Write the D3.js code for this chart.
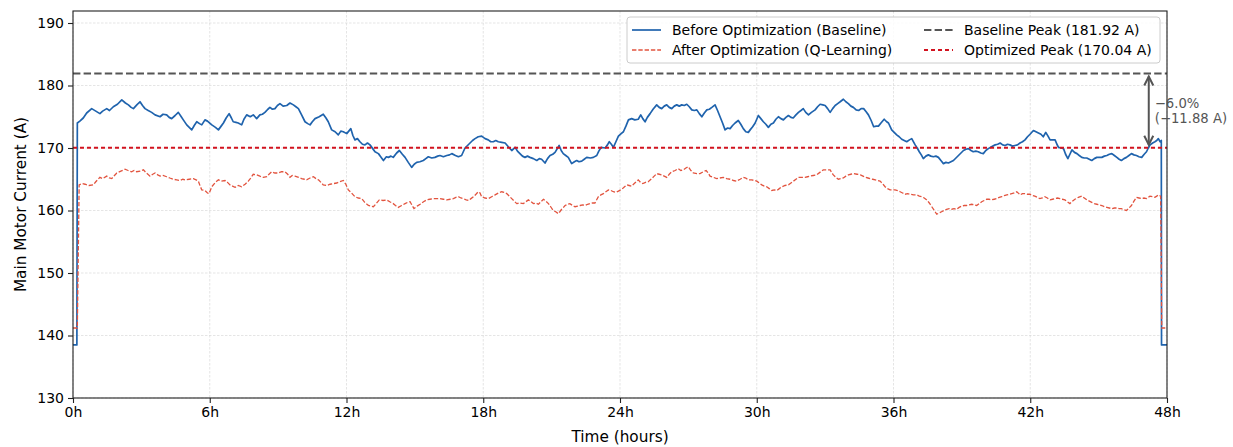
<!DOCTYPE html>
<html>
<head>
<meta charset="utf-8">
<script src="https://cdn.jsdelivr.net/npm/d3@7/dist/d3.min.js"></script>
<style>
  html, body { margin: 0; padding: 0; background: #fff; }
  svg { display: block; font-family: "DejaVu Sans", sans-serif; }
</style>
</head>
<body>
<svg id="chart" width="1233" height="447"></svg>
<script>
// Main motor current over 48 hours, before and after Q-learning optimization
const baselineHours = [0,0.17,0.19,0.3,0.45,0.6,0.82,1.0,1.18,1.3,1.48,1.6,1.77,1.95,2.14,2.3,2.43,2.55,2.65,2.8,2.94,3.05,3.16,3.3,3.45,3.6,3.82,3.95,4.11,4.22,4.33,4.48,4.62,4.75,4.84,4.99,5.1,5.21,5.32,5.43,5.55,5.65,5.79,5.9,6.09,6.25,6.38,6.5,6.6,6.72,6.85,6.95,7.03,7.15,7.25,7.4,7.5,7.62,7.78,7.91,8.06,8.2,8.31,8.42,8.55,8.64,8.75,8.86,8.97,9.08,9.22,9.38,9.52,9.67,9.78,9.89,10.03,10.18,10.3,10.4,10.5,10.62,10.8,10.98,11.1,11.2,11.35,11.5,11.64,11.75,11.86,12.01,12.19,12.28,12.37,12.48,12.59,12.7,12.81,12.92,13.03,13.15,13.25,13.4,13.5,13.62,13.75,13.84,13.95,14.05,14.2,14.32,14.45,14.57,14.71,14.86,14.97,15.08,15.22,15.37,15.48,15.59,15.74,15.88,16.0,16.1,16.25,16.4,16.52,16.62,16.78,16.91,17.05,17.2,17.31,17.42,17.53,17.64,17.78,17.93,18.08,18.22,18.33,18.44,18.55,18.66,18.81,18.96,19.1,19.25,19.4,19.5,19.61,19.72,19.83,19.94,20.05,20.2,20.35,20.46,20.56,20.71,20.82,20.93,21.05,21.15,21.33,21.42,21.51,21.62,21.73,21.88,22.0,22.1,22.2,22.32,22.43,22.54,22.7,22.83,22.98,23.07,23.17,23.35,23.45,23.53,23.62,23.71,23.82,23.93,24.05,24.15,24.26,24.37,24.51,24.65,24.8,24.91,25.0,25.1,25.2,25.32,25.45,25.61,25.72,25.83,25.94,26.05,26.16,26.27,26.38,26.49,26.6,26.71,26.82,26.93,27.04,27.15,27.26,27.37,27.48,27.59,27.7,27.81,27.92,28.03,28.17,28.28,28.39,28.5,28.61,28.72,28.83,28.94,29.05,29.19,29.3,29.41,29.52,29.63,29.71,29.82,29.93,30.07,30.18,30.29,30.4,30.51,30.62,30.73,30.84,30.95,31.06,31.17,31.28,31.39,31.5,31.6,31.72,31.83,31.94,32.04,32.15,32.27,32.4,32.56,32.67,32.78,32.9,33.0,33.11,33.22,33.33,33.44,33.55,33.66,33.8,33.91,34.02,34.13,34.24,34.36,34.47,34.58,34.69,34.8,34.9,35.02,35.13,35.24,35.34,35.45,35.59,35.7,35.78,35.92,36.03,36.14,36.25,36.36,36.47,36.58,36.7,36.8,36.95,37.04,37.13,37.22,37.31,37.42,37.53,37.64,37.75,37.86,37.97,38.08,38.19,38.3,38.41,38.52,38.63,38.74,38.85,38.96,39.07,39.18,39.29,39.4,39.5,39.61,39.72,39.83,39.94,40.05,40.16,40.3,40.46,40.57,40.68,40.79,40.9,41.0,41.11,41.22,41.33,41.44,41.55,41.66,41.77,41.88,41.99,42.14,42.25,42.36,42.47,42.57,42.68,42.78,42.87,42.98,43.09,43.17,43.24,43.35,43.46,43.55,43.65,43.74,43.83,43.94,44.05,44.15,44.26,44.37,44.48,44.59,44.7,44.81,44.92,45.03,45.14,45.25,45.36,45.47,45.58,45.69,45.8,45.9,46.0,46.11,46.22,46.33,46.44,46.55,46.66,46.77,46.89,47.0,47.1,47.18,47.26,47.37,47.47,47.55,47.62,47.7,47.75,47.76,48.0];
const baselineAmps = [138.5,138.5,174.0,174.3,174.8,175.6,176.3,175.9,175.5,175.9,176.3,176.0,176.6,177.0,177.7,177.2,176.9,176.5,176.3,176.9,177.4,176.8,176.3,176.0,175.7,175.3,175.0,175.4,175.3,174.9,174.7,175.2,175.7,175.0,174.5,173.7,173.3,172.9,173.6,174.2,173.9,173.7,174.5,174.3,173.7,173.3,172.9,173.5,174.0,174.8,175.5,174.8,174.2,174.1,174.0,173.7,174.6,175.3,175.0,175.3,174.7,175.3,175.4,175.7,176.2,176.5,176.2,176.3,176.8,177.1,176.7,176.8,177.2,176.9,176.6,176.3,175.3,174.2,173.9,173.7,174.2,174.7,175.0,175.4,174.8,174.2,172.9,172.6,172.1,172.7,172.6,172.3,173.1,172.0,171.3,171.5,171.0,170.6,170.5,170.8,170.5,169.9,169.4,169.1,168.6,168.0,168.6,168.5,168.7,168.5,169.2,169.6,169.0,168.5,167.7,166.9,167.4,167.7,167.8,168.0,168.3,168.6,168.4,168.5,168.7,168.8,168.6,168.8,168.9,169.1,168.8,168.6,168.8,170.0,170.4,170.8,171.2,171.5,171.8,171.9,171.5,171.3,171.0,171.0,171.2,171.0,170.9,170.8,170.2,169.6,170.1,169.5,169.1,168.7,168.5,168.7,168.5,168.3,168.0,168.3,168.2,167.6,168.3,168.8,169.0,169.3,170.4,169.6,169.1,168.8,168.5,167.5,167.8,168.0,167.8,167.9,168.2,168.5,168.4,168.5,168.8,169.5,170.1,170.0,170.5,171.0,170.6,170.1,171.0,171.9,172.3,172.6,173.5,174.5,174.7,174.5,174.6,175.3,174.7,174.2,174.9,175.5,176.2,176.9,176.5,176.3,176.7,176.9,176.5,176.3,176.7,176.9,176.7,176.9,176.8,177.0,176.6,176.1,176.0,176.1,175.5,175.0,175.6,176.1,176.2,176.5,176.9,176.0,175.0,174.0,172.9,173.2,173.1,173.6,174.0,174.4,173.8,173.1,172.6,172.5,172.9,173.4,174.0,175.2,174.7,174.2,173.8,173.3,173.8,174.0,174.6,175.0,174.7,174.5,174.9,175.2,174.9,174.8,175.3,175.7,176.0,176.3,175.7,175.3,175.7,176.1,176.6,177.0,176.9,176.8,176.3,175.7,176.3,176.8,177.1,177.4,177.8,177.4,177.1,176.7,176.5,176.1,176.0,176.3,176.3,175.8,175.3,174.4,173.4,173.5,173.5,174.0,174.6,174.2,174.0,172.9,172.5,172.1,171.8,171.4,171.2,171.0,171.3,171.5,170.5,170.0,169.4,168.9,168.3,168.7,168.9,168.7,168.6,168.7,168.5,168.0,167.5,167.7,167.6,167.8,168.0,168.4,168.8,169.2,169.6,169.8,169.9,169.6,169.4,169.5,169.4,169.2,169.1,169.6,169.9,170.2,170.5,170.6,170.8,170.5,170.4,170.6,170.5,170.3,170.4,170.5,170.8,171.0,171.3,171.8,172.2,172.8,172.6,172.4,172.2,171.8,172.5,171.9,171.3,171.3,171.3,170.6,170.1,170.0,169.9,169.0,168.3,169.0,169.7,169.3,169.1,168.8,168.5,168.4,168.4,168.2,168.0,168.3,168.5,168.5,168.5,168.7,168.8,169.0,169.1,168.8,168.5,168.2,168.0,168.3,168.5,168.8,169.1,168.9,168.8,168.6,168.5,169.0,169.4,170.0,170.5,170.8,171.0,171.2,171.5,171.0,171.2,138.5,138.5];

const optimizedHours = [0,0.19,0.27,0.4,0.53,0.7,0.89,1.0,1.18,1.3,1.48,1.6,1.7,1.82,1.92,2.1,2.28,2.42,2.57,2.68,2.79,2.95,3.09,3.22,3.38,3.5,3.6,3.72,3.82,3.95,4.11,4.25,4.4,4.55,4.7,4.82,4.92,5.1,5.28,5.4,5.5,5.58,5.65,5.79,5.9,5.97,6.09,6.25,6.38,6.5,6.67,6.78,6.89,7.0,7.11,7.25,7.4,7.55,7.69,7.8,7.91,8.06,8.2,8.35,8.5,8.6,8.72,8.86,9.01,9.15,9.3,9.42,9.52,9.62,9.74,9.9,10.03,10.15,10.25,10.4,10.55,10.66,10.77,10.88,10.98,11.13,11.28,11.42,11.57,11.7,11.86,11.97,12.08,12.22,12.37,12.52,12.67,12.8,12.96,13.08,13.18,13.3,13.44,13.6,13.76,13.9,14.05,14.15,14.27,14.42,14.57,14.68,14.79,14.88,14.96,15.1,15.23,15.38,15.52,15.66,15.81,15.96,16.1,16.25,16.4,16.55,16.69,16.8,16.91,17.02,17.13,17.25,17.35,17.46,17.57,17.68,17.78,17.86,17.93,18.08,18.22,18.37,18.52,18.66,18.81,18.92,19.03,19.14,19.25,19.36,19.47,19.6,19.76,19.87,19.98,20.1,20.2,20.31,20.42,20.53,20.64,20.75,20.86,20.96,21.07,21.18,21.29,21.36,21.44,21.52,21.59,21.7,21.8,21.92,22.03,22.14,22.25,22.36,22.47,22.58,22.69,22.8,22.9,23.05,23.16,23.27,23.38,23.49,23.6,23.71,23.82,23.93,24.08,24.2,24.3,24.4,24.5,24.65,24.8,24.9,25.0,25.12,25.24,25.39,25.5,25.61,25.72,25.83,25.94,26.05,26.16,26.27,26.42,26.56,26.67,26.78,26.89,27.0,27.11,27.22,27.37,27.51,27.65,27.78,27.87,27.95,28.1,28.24,28.38,28.53,28.68,28.83,28.98,29.12,29.27,29.41,29.52,29.63,29.78,29.9,30.0,30.11,30.22,30.33,30.44,30.55,30.66,30.77,30.88,30.99,31.1,31.24,31.39,31.5,31.61,31.72,31.83,31.97,32.12,32.23,32.34,32.48,32.63,32.77,32.92,33.07,33.22,33.3,33.36,33.47,33.58,33.69,33.8,33.91,34.02,34.13,34.24,34.4,34.55,34.66,34.77,34.88,34.98,35.09,35.2,35.3,35.41,35.52,35.63,35.74,35.85,35.96,36.07,36.18,36.29,36.4,36.51,36.62,36.73,36.88,37.02,37.13,37.24,37.35,37.46,37.57,37.68,37.79,37.9,38.0,38.11,38.22,38.33,38.44,38.55,38.66,38.77,38.88,38.99,39.1,39.2,39.32,39.43,39.54,39.65,39.76,39.87,39.98,40.09,40.2,40.3,40.42,40.53,40.64,40.75,40.86,40.97,41.08,41.19,41.3,41.41,41.5,41.55,41.66,41.77,41.88,41.99,42.1,42.2,42.31,42.42,42.53,42.64,42.75,42.87,42.98,43.09,43.2,43.3,43.41,43.52,43.63,43.74,43.85,43.96,44.11,44.26,44.37,44.48,44.59,44.7,44.81,44.92,45.03,45.14,45.25,45.36,45.47,45.58,45.69,45.8,45.9,46.0,46.11,46.22,46.33,46.44,46.55,46.66,46.77,46.88,46.99,47.1,47.18,47.25,47.36,47.47,47.55,47.62,47.72,47.77,48.0];
const optimizedAmps = [141.2,141.2,164.1,164.3,164.2,164.0,164.1,164.6,165.3,165.1,165.5,165.2,165.1,165.6,166.0,166.3,166.6,166.4,166.2,166.4,166.2,166.3,166.5,166.0,165.5,165.8,166.0,165.7,165.5,165.6,165.4,165.2,165.0,164.9,164.8,165.0,164.9,165.0,165.1,164.9,164.7,163.9,163.3,163.2,162.8,162.7,163.8,164.5,164.9,164.7,164.8,164.5,164.1,163.9,163.7,164.0,163.8,164.2,164.7,165.2,165.8,165.7,165.5,165.3,165.4,165.8,166.2,166.0,166.0,166.2,166.2,165.8,165.3,165.6,165.5,165.3,165.1,165.0,164.9,165.2,165.4,165.1,164.9,164.5,164.1,164.0,164.2,164.3,164.4,164.6,164.8,164.2,163.3,162.8,162.2,162.0,161.9,161.3,160.8,160.7,160.6,161.1,161.7,161.6,161.7,161.4,161.1,160.8,160.5,160.8,161.1,161.3,161.4,160.8,160.3,160.7,161.0,161.4,161.7,161.8,161.9,161.9,161.9,161.8,161.7,161.8,161.9,162.1,162.2,162.0,161.9,161.7,161.6,161.9,162.2,162.6,163.0,162.8,162.2,162.0,161.9,162.2,162.5,162.8,163.0,162.9,162.7,162.3,161.9,161.5,161.1,161.2,161.1,161.4,161.7,161.4,161.1,161.2,161.0,161.4,161.8,161.5,161.1,160.6,160.0,159.8,159.5,159.8,160.2,160.5,160.8,161.0,161.1,160.8,160.6,160.7,160.8,160.9,160.8,161.0,161.1,161.2,161.2,162.2,162.5,162.7,163.0,163.3,163.2,163.0,162.9,163.1,163.4,163.8,164.1,164.0,163.9,164.4,164.9,164.5,164.3,164.5,164.6,165.1,165.5,165.9,165.8,165.7,165.5,165.3,165.8,166.2,166.4,166.7,166.4,166.5,166.8,167.0,166.4,166.0,165.9,165.9,166.2,166.4,166.0,165.5,165.3,165.1,165.2,165.3,165.1,165.0,164.8,164.7,165.0,165.3,165.2,164.9,164.9,164.8,164.7,164.4,164.1,163.9,163.8,163.5,163.2,163.3,163.2,163.5,163.8,164.0,164.1,164.4,164.7,165.0,165.3,165.3,165.3,165.4,165.5,165.6,165.7,166.1,166.5,166.5,166.5,166.0,165.7,165.3,165.0,165.1,165.2,165.5,165.7,165.8,165.9,165.8,165.7,165.5,165.3,165.2,165.1,165.0,164.9,164.8,164.7,164.3,163.8,163.5,163.3,163.3,163.3,163.2,163.0,162.8,162.6,162.7,162.6,162.5,162.5,162.3,162.2,162.0,161.7,161.2,160.6,160.0,159.4,159.6,159.8,160.0,160.2,160.3,160.2,160.3,160.2,160.5,160.7,160.8,160.8,160.9,161.0,160.9,160.8,161.1,161.4,161.6,161.8,161.8,161.7,161.8,161.9,162.1,162.2,162.4,162.5,162.6,162.7,162.8,163.0,162.7,162.5,162.7,162.7,162.6,162.6,162.4,162.3,162.1,161.9,162.0,162.2,162.0,161.7,161.8,161.9,162.0,161.9,161.8,161.7,161.4,161.1,161.5,161.8,162.1,162.3,162.0,161.7,161.5,161.3,161.1,161.0,160.9,160.8,160.6,160.5,160.4,160.3,160.4,160.4,160.3,160.3,160.1,160.0,160.4,160.8,161.5,162.1,162.0,161.9,162.0,161.9,162.1,162.3,162.2,162.1,162.3,162.5,162.3,141.2,141.2];

const baselinePeak = 181.92;
const optimizedPeak = 170.04;
const xTickHours = [0, 6, 12, 18, 24, 30, 36, 42, 48];
const yTickAmps = [130, 140, 150, 160, 170, 180, 190];
const legendLabels = ["Before Optimization (Baseline)", "After Optimization (Q-Learning)", "Baseline Peak (181.92 A)", "Optimized Peak (170.04 A)"];
const reductionLabels = ["\u22126.0%", "(\u221211.88 A)"];

const svg = d3.select("#chart");
const margin = { left: 73, right: 1167, top: 11, bottom: 398 };

const x = d3.scaleLinear().domain([0, 48]).range([margin.left, margin.right]);
const y = d3.scaleLinear().domain([130, baselinePeak + 10]).range([margin.bottom, margin.top]);

const colors = {
  baseline: "#1f63ad",
  optimized: "#e2543f",
  basePeak: "#555555",
  optPeak: "#d2131f",
  grid: "#d4d4d4",
  text: "#000"
};

// clip path for the plot area
svg.append("defs").append("clipPath").attr("id", "plot-clip")
  .append("rect")
  .attr("x", margin.left).attr("y", margin.top)
  .attr("width", margin.right - margin.left).attr("height", margin.bottom - margin.top);

// grid
const grid = svg.append("g").attr("class", "grid");
grid.selectAll("line.gx").data(xTickHours).join("line")
  .attr("class", "gx")
  .attr("x1", d => x(d)).attr("x2", d => x(d))
  .attr("y1", margin.top).attr("y2", margin.bottom)
  .attr("stroke", colors.grid).attr("stroke-width", 0.6).attr("stroke-dasharray", "2.5,1.5");
grid.selectAll("line.gy").data(yTickAmps).join("line")
  .attr("class", "gy")
  .attr("x1", margin.left).attr("x2", margin.right)
  .attr("y1", d => y(d)).attr("y2", d => y(d))
  .attr("stroke", colors.grid).attr("stroke-width", 0.6).attr("stroke-dasharray", "2.5,1.5");

const plot = svg.append("g").attr("clip-path", "url(#plot-clip)");

const line = d3.line().x(d => x(d[0])).y(d => y(d[1]));
const baselineData = baselineHours.map((h, i) => [h, baselineAmps[i]]);
const optimizedData = optimizedHours.map((h, i) => [h, optimizedAmps[i]]);

plot.append("path").datum(baselineData)
  .attr("d", line)
  .attr("fill", "none")
  .attr("stroke", colors.baseline)
  .attr("stroke-width", 1.7)
  .attr("stroke-linejoin", "round");

plot.append("path").datum(optimizedData)
  .attr("d", line)
  .attr("fill", "none")
  .attr("stroke", colors.optimized)
  .attr("stroke-width", 1.3)
  .attr("stroke-dasharray", "4.4,1.9");

// peak reference lines
plot.append("line")
  .attr("x1", margin.left).attr("x2", margin.right)
  .attr("y1", y(baselinePeak)).attr("y2", y(baselinePeak))
  .attr("stroke", colors.basePeak).attr("stroke-width", 2)
  .attr("stroke-dasharray", "7.4,3.2");
plot.append("line")
  .attr("x1", margin.left).attr("x2", margin.right)
  .attr("y1", y(optimizedPeak)).attr("y2", y(optimizedPeak))
  .attr("stroke", colors.optPeak).attr("stroke-width", 2)
  .attr("stroke-dasharray", "4,3");

// axes
const xAxis = d3.axisBottom(x).tickValues(xTickHours).tickFormat(d => d + "h").tickSize(5).tickPadding(4);
const yAxis = d3.axisLeft(y).tickValues(yTickAmps).tickSize(5).tickPadding(4);

const gx = svg.append("g").attr("transform", `translate(0,${margin.bottom})`).call(xAxis);
const gy = svg.append("g").attr("transform", `translate(${margin.left},0)`).call(yAxis);
[gx, gy].forEach(g => {
  g.select(".domain").remove();
  g.selectAll(".tick line").attr("stroke", "#222").attr("stroke-width", 1.1);
  g.selectAll(".tick text").attr("fill", "#000").attr("font-size", 14).attr("font-family", "DejaVu Sans");
});

// frame
svg.append("rect")
  .attr("x", margin.left).attr("y", margin.top)
  .attr("width", margin.right - margin.left).attr("height", margin.bottom - margin.top)
  .attr("fill", "none").attr("stroke", "#222").attr("stroke-width", 1.1);

// axis titles
svg.append("text")
  .attr("x", (margin.left + margin.right) / 2).attr("y", 442)
  .attr("text-anchor", "middle").attr("font-size", 15.3).attr("fill", "#000")
  .text("Time (hours)");
svg.append("text")
  .attr("transform", `translate(26,${(margin.top + margin.bottom) / 2}) rotate(-90)`)
  .attr("text-anchor", "middle").attr("font-size", 15.3).attr("fill", "#000")
  .text("Main Motor Current (A)");

// reduction annotation: double-headed arrow between the two peak lines
const ax = x(47.2);
const yTop = y(baselinePeak) + 3;
const yBot = y(optimizedPeak) - 3;
const ann = svg.append("g").attr("stroke", colors.basePeak).attr("stroke-width", 2).attr("fill", "none");
ann.append("line").attr("x1", ax).attr("x2", ax).attr("y1", yTop).attr("y2", yBot);
ann.append("path").attr("d", `M${ax - 4.5},${yTop + 9}L${ax},${yTop}L${ax + 4.5},${yTop + 9}`);
ann.append("path").attr("d", `M${ax - 4.5},${yBot - 9}L${ax},${yBot}L${ax + 4.5},${yBot - 9}`);

const annText = svg.append("text")
  .attr("x", ax + 6).attr("y", (yTop + yBot) / 2)
  .attr("font-size", 13.2).attr("fill", colors.basePeak);
annText.append("tspan").attr("x", ax + 6).attr("dy", "-0.2em").text(reductionLabels[0]);
annText.append("tspan").attr("x", ax + 6).attr("dy", "1.15em").text(reductionLabels[1]);

// legend
const legend = svg.append("g");
legend.append("rect")
  .attr("x", 627).attr("y", 17).attr("width", 533).attr("height", 46).attr("rx", 3)
  .attr("fill", "#fff").attr("fill-opacity", 0.85)
  .attr("stroke", "#cccccc").attr("stroke-width", 1);

const legendItems = [
  { label: legendLabels[0], color: colors.baseline, width: 1.7, dash: null, col: 0, row: 0 },
  { label: legendLabels[1], color: colors.optimized, width: 1.3, dash: "4.4,1.9", col: 0, row: 1 },
  { label: legendLabels[2], color: colors.basePeak, width: 2, dash: "7.4,3.2", col: 1, row: 0 },
  { label: legendLabels[3], color: colors.optPeak, width: 2, dash: "4,3", col: 1, row: 1 }
];
const colX = [632, 924];
const rowY = [30, 50];
legendItems.forEach(it => {
  const lx = colX[it.col], ly = rowY[it.row];
  legend.append("line")
    .attr("x1", lx).attr("x2", lx + 29).attr("y1", ly).attr("y2", ly)
    .attr("stroke", it.color).attr("stroke-width", it.width)
    .attr("stroke-dasharray", it.dash);
  legend.append("text")
    .attr("x", lx + 40).attr("y", ly).attr("dy", "0.36em")
    .attr("font-size", 14).attr("fill", "#000")
    .text(it.label);
});
</script>
</body>
</html>
